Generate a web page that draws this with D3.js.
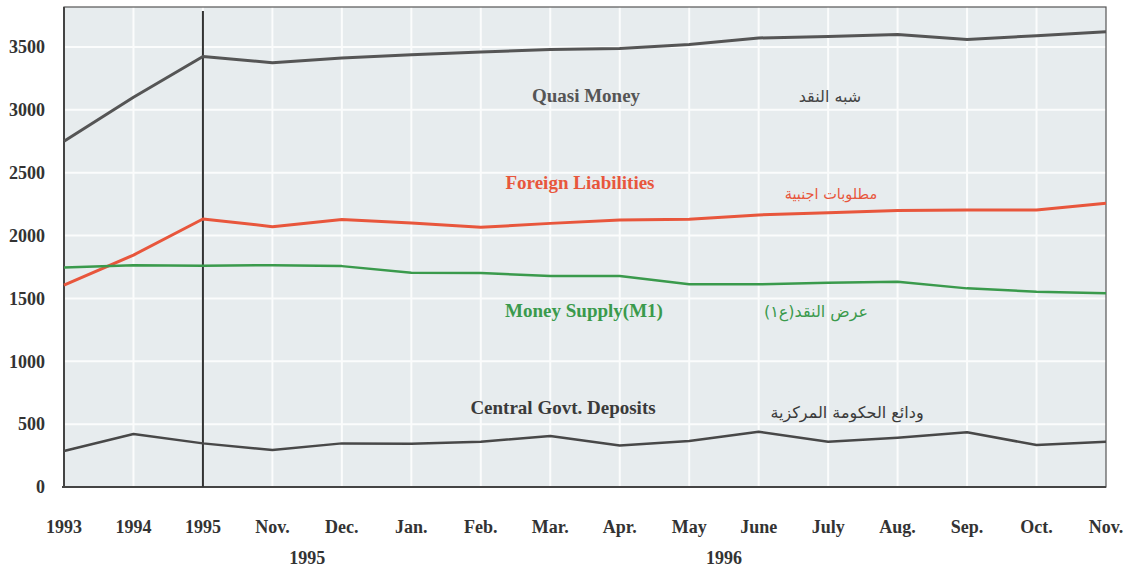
<!DOCTYPE html>
<html><head><meta charset="utf-8">
<script src="https://cdn.jsdelivr.net/npm/d3@7"></script>
<style>body{margin:0;background:#fff}svg{display:block}</style>
</head><body>
<script>
const categories = ["1993","1994","1995","Nov.","Dec.","Jan.","Feb.","Mar.","Apr.","May","June","July","Aug.","Sep.","Oct.","Nov."];
const quasiMoney = [2750,3100,3425,3375,3412,3438,3460,3481,3488,3520,3572,3584,3600,3560,3590,3622];
const foreignLiabilities = [1605,1845,2132,2071,2128,2100,2066,2097,2124,2129,2164,2182,2200,2204,2204,2257];
const moneySupply = [1747,1764,1760,1764,1757,1705,1702,1678,1678,1612,1612,1625,1633,1580,1554,1541];
const govtDeposits = [286,421,347,294,347,345,360,405,331,366,440,360,392,435,334,360];
const yTicks = [0,500,1000,1500,2000,2500,3000,3500];
const yearLabels = [{text:"1995", at:"Dec."}, {text:"1996", at:"June"}];

const W=1135,H=570;
const svg=d3.select("body").append("svg").attr("width",W).attr("height",H);
const pL=64,pR=1106,pT=7,pB=487;
const x=d3.scalePoint().domain(d3.range(categories.length)).range([pL,pR]);
const y=d3.scaleLinear().domain([0,3500]).range([pB,47]);

svg.append("rect").attr("x",pL).attr("y",pT).attr("width",pR-pL).attr("height",pB-pT).attr("fill","#e7ecee");
// grid
svg.append("g").selectAll("line").data(yTicks.slice(1)).join("line")
  .attr("x1",pL).attr("x2",pR).attr("y1",d=>y(d)).attr("y2",d=>y(d))
  .attr("stroke","#fbfcfc").attr("stroke-width",2);
svg.append("g").selectAll("line").data(d3.range(1,categories.length-1)).join("line")
  .attr("x1",d=>x(d)).attr("x2",d=>x(d)).attr("y1",pT).attr("y2",pB)
  .attr("stroke","#fbfcfc").attr("stroke-width",2);

// frame
svg.append("rect").attr("x",pL).attr("y",pT).attr("width",pR-pL).attr("height",pB-pT)
  .attr("fill","none").attr("stroke","#555").attr("stroke-width",1.2);
svg.append("line").attr("x1",pL).attr("x2",pL).attr("y1",pT).attr("y2",pB).attr("stroke","#444").attr("stroke-width",2);
svg.append("line").attr("x1",pL-2).attr("x2",pR).attr("y1",pB).attr("y2",pB).attr("stroke","#444").attr("stroke-width",2);
// 1995 divider
svg.append("line").attr("x1",x(2)).attr("x2",x(2)).attr("y1",11).attr("y2",pB).attr("stroke","#333").attr("stroke-width",2);

const line=d3.line().x((d,i)=>x(i)).y(d=>y(d));
const series=[
  {data:quasiMoney,color:"#555",w:3},
  {data:foreignLiabilities,color:"#e8563c",w:3},
  {data:moneySupply,color:"#3a9a4c",w:2.5},
  {data:govtDeposits,color:"#484848",w:2.5}
];
series.forEach(s=>svg.append("path").attr("d",line(s.data)).attr("fill","none")
  .attr("stroke",s.color).attr("stroke-width",s.w).attr("stroke-linejoin","round"));

const font="'Liberation Serif','Times New Roman',serif";
// y axis labels
svg.append("g").selectAll("text").data(yTicks).join("text")
  .attr("x",45).attr("y",d=>y(d)).attr("dy","0.35em").attr("text-anchor","end")
  .attr("font-family",font).attr("font-weight","bold").attr("font-size",18).attr("fill","#333")
  .text(d=>d);
// x labels
svg.append("g").selectAll("text").data(categories).join("text")
  .attr("x",(d,i)=>x(i)).attr("y",533).attr("text-anchor","middle")
  .attr("font-family",font).attr("font-weight","bold").attr("font-size",18).attr("fill","#333")
  .text(d=>d);
svg.append("g").selectAll("text").data(yearLabels).join("text")
  .attr("x",d=>(x(categories.indexOf(d.at))+(d.at==="Dec."?x(3):x(9)))/2).attr("y",564).attr("text-anchor","middle")
  .attr("font-family",font).attr("font-weight","bold").attr("font-size",18).attr("fill","#333")
  .text(d=>d.text);

// series labels
const labels=[
  {t:"Quasi Money",x:586,y:102,c:"#555",ar:false,s:19},
  {t:"شبه النقد",x:830,y:102,c:"#444",ar:true,s:16},
  {t:"Foreign Liabilities",x:580,y:189,c:"#e8563c",ar:false,s:19},
  {t:"مطلوبات اجنبية",x:831,y:199,c:"#e8563c",ar:true,s:14.5},
  {t:"Money Supply(M1)",x:584,y:317,c:"#3a9a4c",ar:false,s:19},
  {t:"عرض النقد(ع١)",x:816,y:317,c:"#3a9a4c",ar:true,s:16},
  {t:"Central Govt. Deposits",x:563,y:414,c:"#3a3a3a",ar:false,s:19},
  {t:"ودائع الحكومة المركزية",x:847,y:418,c:"#3a3a3a",ar:true,s:16}
];
svg.append("g").selectAll("text").data(labels).join("text")
  .attr("x",d=>d.x).attr("y",d=>d.y).attr("text-anchor","middle")
  .attr("font-family",d=>d.ar?"'DejaVu Sans',sans-serif":font)
  .attr("font-weight",d=>d.ar?"normal":"bold")
  .attr("font-size",d=>d.s).attr("fill",d=>d.c)
  .attr("direction",d=>d.ar?"rtl":"ltr")
  .text(d=>d.t);
</script>
</body></html>
